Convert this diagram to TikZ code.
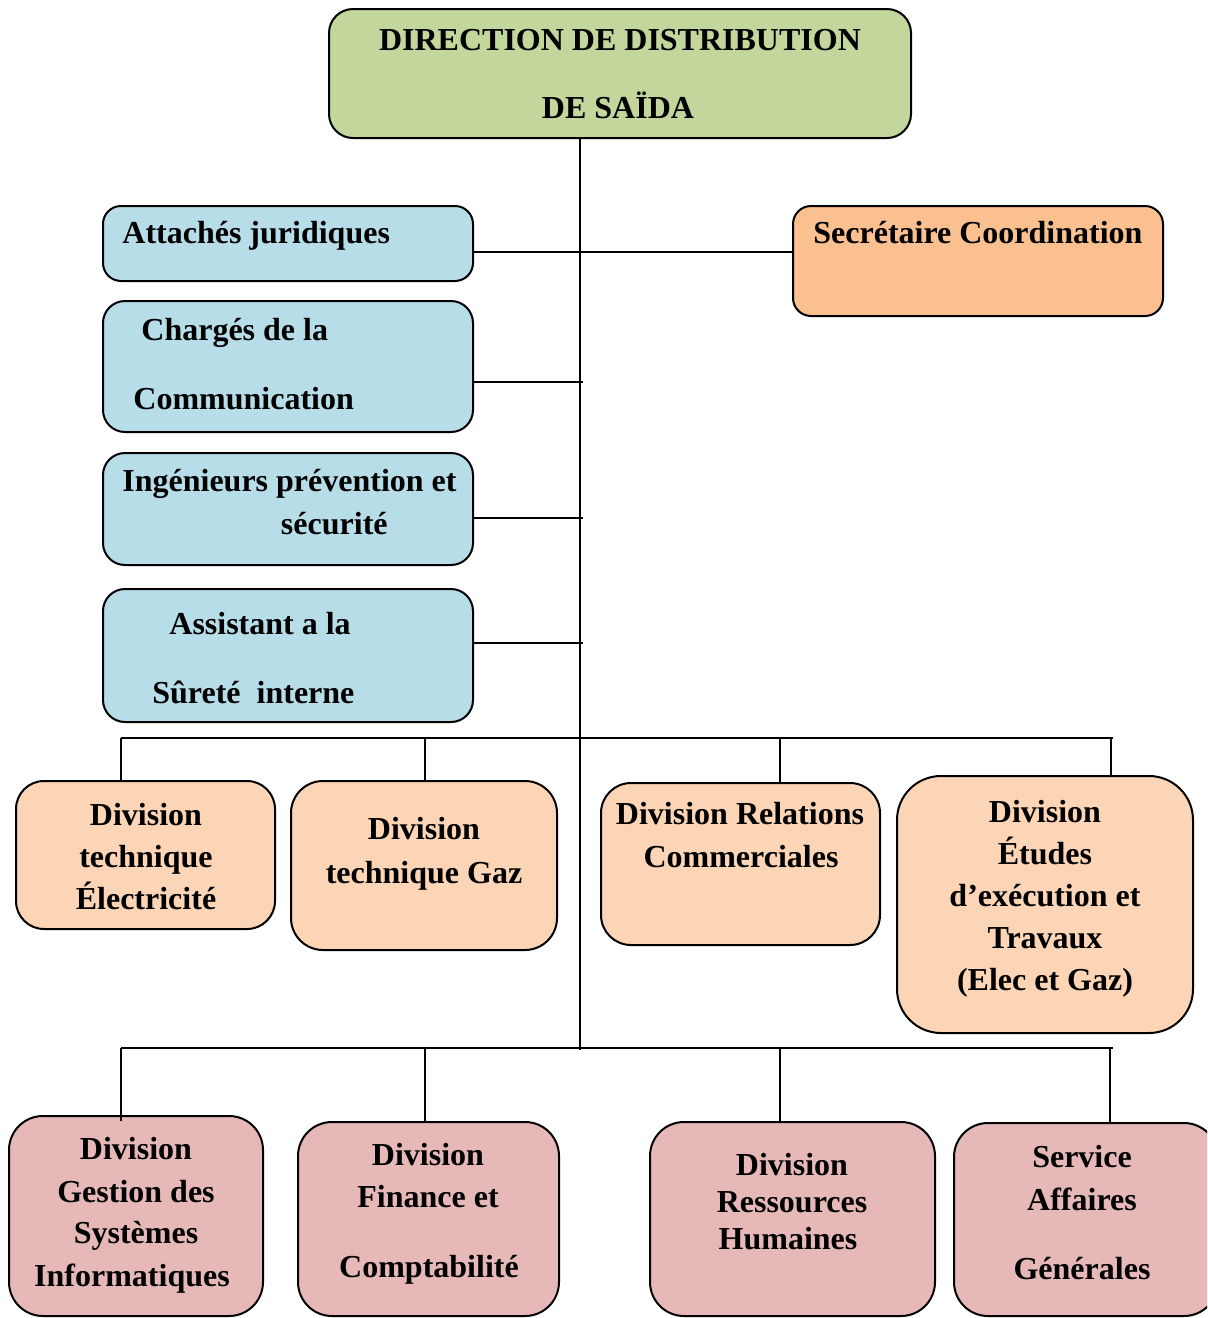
\documentclass[tikz,border=0pt]{standalone}
\usepackage{fontspec}
\setmainfont{Liberation Serif}
\usetikzlibrary{fit}
\definecolor{dirgreen}{HTML}{C3D69B}
\definecolor{staffblue}{HTML}{B7DEE8}
\definecolor{secorange}{HTML}{FAC090}
\definecolor{divpeach}{HTML}{FBD5B5}
\definecolor{divpink}{HTML}{E6B9B8}
\tikzset{
  box/.style={draw=black, line width=1pt, inner sep=0pt, rounded corners=#1},
  box/.default=10pt,
  link/.style={draw=black, line width=1pt},
  lbl/.style={inner sep=0pt, font=\fontsize{16}{19}\selectfont\bfseries, anchor=base},
  lblw/.style={lbl, anchor=base west},
  lble/.style={lbl, anchor=base east}
}
\begin{document}
\begin{tikzpicture}[x=0.5pt,y=-0.5pt]
\useasboundingbox (0,0) rectangle (1207,1318);
\clip (0,0) rectangle (1207,1318);

% ---- boxes ----
\node[box=12pt, fill=dirgreen, fit={(329,9) (911,138)}] (dir) {};
\node[box=9pt, fill=staffblue, fit={(103,206) (473,281)}] (attach) {};
\node[box=9pt, fill=secorange, fit={(793,206) (1163,316)}] (secr) {};
\node[box=11pt, fill=staffblue, fit={(103,301) (473,432)}] (comm) {};
\node[box=11pt, fill=staffblue, fit={(103,453) (473,565)}] (inge) {};
\node[box=11pt, fill=staffblue, fit={(103,589) (473,722)}] (surete) {};

\node[box=14pt, fill=divpeach, fit={(16,781) (275,929)}] (elec) {};
\node[box=16pt, fill=divpeach, fit={(291,781) (557,950)}] (gaz) {};
\node[box=15pt, fill=divpeach, fit={(601,783) (880,945)}] (relc) {};
\node[box=22pt, fill=divpeach, fit={(897,776) (1193,1033)}] (etudes) {};

\node[box=17pt, fill=divpink, fit={(9,1116) (263,1316)}] (gsi) {};
\node[box=17pt, fill=divpink, fit={(298,1122) (559,1316)}] (fin) {};
\node[box=17pt, fill=divpink, fit={(650,1122) (935,1316)}] (rh) {};
\node[box=17pt, fill=divpink, fit={(954,1123) (1218,1316)}] (sag) {};

% ---- connector junctions ----
\coordinate (trunkTop) at (580,138);
\coordinate (trunkEnd) at (580,1050);
\coordinate (secJ) at (473,252);
\coordinate (commJ) at (583,382);
\coordinate (ingeJ) at (583,518);
\coordinate (surJ) at (583,643);
\coordinate (busA1) at (121,738);
\coordinate (busA2) at (425,739);
\coordinate (busA3) at (780,738);
\coordinate (busA4) at (1111,738);
\coordinate (busAend) at (1113,738);
\coordinate (busB1) at (121,1048);
\coordinate (busB2) at (425,1048);
\coordinate (busB3) at (780,1048);
\coordinate (busB4) at (1110,1048);
\coordinate (busBend) at (1113,1048);

% ---- connectors ----
\draw[link] (trunkTop) -- (trunkEnd);
\draw[link] (secJ) -- (secJ -| secr.west);
\draw[link] (comm.east |- commJ) -- (commJ);
\draw[link] (inge.east |- ingeJ) -- (ingeJ);
\draw[link] (surete.east |- surJ) -- (surJ);

\draw[link] (busA1) -- (busAend);
\draw[link] (busA1) -- (busA1 |- elec.north);
\draw[link] (busA2) -- (busA2 |- gaz.north);
\draw[link] (busA3) -- (busA3 |- relc.north);
\draw[link] (busA4) -- (busA4 |- etudes.north);

\draw[link] (busB1) -- (busBend);
\draw[link] (busB1) -- ([yshift=-3pt]busB1 |- gsi.north);
\draw[link] (busB2) -- (busB2 |- fin.north);
\draw[link] (busB3) -- (busB3 |- rh.north);
\draw[link] (busB4) -- (busB4 |- sag.north);

% ---- labels ----
\node[lbl] (dirA) at (620,50) {DIRECTION DE DISTRIBUTION};
\node[lbl] (dirB) at (618,118) {DE SAÏDA};

\node[lblw] (attachT) at (122,243) {Attachés juridiques};
\node[lblw] (secrT) at (813,243) {Secrétaire Coordination};
\node[lblw] (commA) at (141,340) {Chargés de la};
\node[lblw] (commB) at (133,409) {Communication};
\node[lblw] (ingeA) at (122,491) {Ingénieurs prévention et};
\node[lble] (ingeB) at (388,534) {sécurité};
\node[lblw] (surA) at (169,634) {Assistant a la};
\node[lblw] (surB) at (152,703) {Sûreté\ \ interne};

\node[lbl] (elecA) at (146,825) {Division};
\node[lbl] (elecB) at (146,867) {technique};
\node[lbl] (elecC) at (146,909) {Électricité};

\node[lbl] (gazA) at (424,839) {Division};
\node[lbl] (gazB) at (424,883) {technique Gaz};

\node[lbl] (relA) at (740,824) {Division Relations};
\node[lbl] (relB) at (741,867) {Commerciales};

\node[lbl] (etA) at (1045,822) {Division};
\node[lbl] (etB) at (1045,864) {Études};
\node[lbl] (etC) at (1045,906) {d’exécution et};
\node[lbl] (etD) at (1045,948) {Travaux};
\node[lbl] (etE) at (1045,990) {(Elec et Gaz)};

\node[lbl] (gsiA) at (136,1159) {Division};
\node[lbl] (gsiB) at (136,1202) {Gestion des};
\node[lbl] (gsiC) at (136,1243) {Systèmes};
\node[lbl] (gsiD) at (132,1286) {Informatiques};

\node[lbl] (finA) at (428,1165) {Division};
\node[lbl] (finB) at (428,1207) {Finance et};
\node[lbl] (finC) at (429,1277) {Comptabilité};

\node[lbl] (rhA) at (792,1175) {Division};
\node[lbl] (rhB) at (792,1212) {Ressources};
\node[lbl] (rhC) at (788,1249) {Humaines};

\node[lbl] (sagA) at (1082,1167) {Service};
\node[lbl] (sagB) at (1082,1210) {Affaires};
\node[lbl] (sagC) at (1082,1279) {Générales};
\end{tikzpicture}
\end{document}
